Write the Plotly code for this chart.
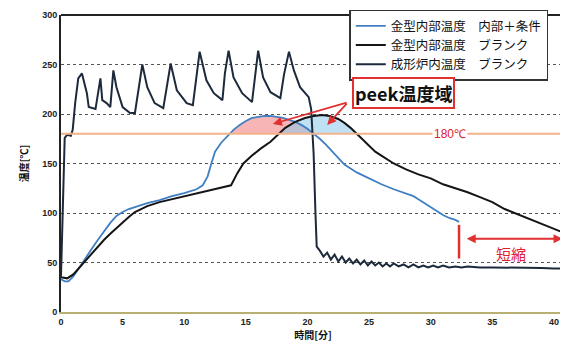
import numpy as np
import plotly.graph_objects as go

# ---- data ----
furnace_x = [0, 0.05, 0.15, 0.3, 0.5, 0.8, 0.95, 1.15, 1.4, 1.7, 2.1, 2.25, 2.8, 3.2, 3.35, 3.7, 4.0, 4.25,
             4.5, 5.0, 5.6, 6.0, 6.6, 7.0, 7.6, 8.3, 8.9, 9.4, 10.2, 10.7, 11.25, 11.8, 12.4, 13.1, 13.3,
             13.6, 14.0, 14.7, 15.5, 15.75, 16.0, 16.4, 17.0, 17.8, 18.1, 18.5, 18.9, 19.4, 20.1, 20.3,
             20.5, 20.65, 20.75, 21.0, 21.3, 21.6, 21.9, 22.2, 22.5, 22.8, 23.1, 23.4, 23.7, 24.0, 24.3,
             24.6, 24.9, 25.2, 25.5, 25.8, 26.1, 26.4, 26.7, 27.0, 27.4, 27.8, 28.2, 28.6, 29.0, 29.4,
             29.8, 30.2, 30.6, 31.0, 31.5, 32.0, 32.5, 33.0, 34.0, 35.0, 36.0, 37.0, 38.0, 39.0, 40.0, 40.9]
furnace_y = [36, 60, 130, 176, 179, 178, 184, 211, 236, 241, 221, 207, 205, 236, 214, 211, 207, 244,
             227, 207, 201, 201, 250, 227, 211, 206, 251, 224, 211, 209, 263, 234, 221, 214, 241,
             264, 237, 221, 212, 240, 264, 237, 222, 216, 240, 263, 244, 227, 217, 205,
             160, 100, 66, 62, 56, 60, 53, 58, 51, 56, 50, 54, 49, 53, 48,
             52, 47, 51, 47, 50, 46, 49, 46, 49, 46, 48, 45, 48, 45, 47,
             45, 47, 45, 47, 45, 46, 45, 46, 45, 45, 45, 44.5, 44.5, 44.5, 44, 44]

blue_x = [0, 0.3, 0.6, 1.0, 1.5, 2.0, 2.5, 3.0, 3.5, 4.0, 4.5, 5.0, 5.5, 6.0, 7.0, 8.0, 9.0, 10.0, 11.0,
          11.5, 11.9, 12.2, 12.5, 13.0, 13.5, 14.0, 14.5, 15.0, 15.5, 16.0, 16.5, 17.0, 17.5, 18.0, 18.5,
          19.0, 19.5, 20.0, 20.5, 21.0, 21.5, 22.0, 22.5, 23.0, 23.5, 24.0, 24.5, 25.0, 26.0, 27.0, 28.0,
          28.6, 29.0, 29.5, 30.0, 30.5, 31.0, 31.5, 32.0, 32.3]
blue_y = [33, 31, 31, 36, 45, 55, 64, 73, 82, 90, 97, 101, 104, 106, 110, 113, 117, 120, 124,
          128, 137, 150, 162, 171, 178, 184, 189, 193, 196, 197, 198, 198, 197, 196, 194,
          192, 189, 185, 180, 175, 169, 162, 155, 149, 145, 141, 138, 135, 129, 124, 120,
          117, 114, 110, 106, 102, 98, 95, 93, 91]

black_x = [0, 0.5, 1.0, 1.5, 2.0, 2.5, 3.0, 3.5, 4.0, 4.5, 5.0, 5.5, 6.0, 7.0, 8.0, 9.0, 10.0, 11.0,
           12.0, 13.0, 13.8, 14.3, 14.8, 15.5, 16.2, 17.0, 17.6, 18.2, 19.0, 19.8, 20.5, 21.2, 21.8,
           22.5, 23.0, 23.5, 24.0, 24.5, 25.0, 25.5, 26.0, 26.5, 27.0, 28.0, 29.0, 30.0, 31.0, 32.0,
           33.0, 34.0, 35.0, 36.0, 37.0, 38.0, 39.0, 40.0, 40.8]
black_y = [35, 34, 38, 45, 53, 60, 66, 73, 79, 85, 91, 96, 101, 107, 111, 114, 117, 120,
           123, 126, 128, 140, 150, 158, 165, 172, 179, 186, 192, 196, 198, 199, 198,
           195, 191, 186, 180, 174, 167, 162, 158, 154, 150, 144, 139, 135, 129, 125,
           121, 116, 111, 104, 99, 94, 89, 84, 80]

threshold = 180
legend_names = ["金型内部温度　内部＋条件", "金型内部温度　ブランク", "成形炉内温度　ブランク"]
y_ticks = [0, 50, 100, 150, 200, 250, 300]
x_ticks = [0, 5, 10, 15, 20, 25, 30, 35, 40]

# annotation anchors (data coords)
peek_label = (27.8, 221)
peek_arrow_tail = (23.3, 212)
peek_arrow_heads = [(17.2, 190), (21.6, 189)]
short_bar_x = 32.3
short_bar_y = (88, 54)
short_arrow = (32.8, 40.7, 74)
short_label = (36.5, 59)
temp_label = (31.6, 180)


def above_region(xs, ys, thr):
    xs = np.asarray(xs, float)
    ys = np.asarray(ys, float)
    px, py = [], []
    for i in range(len(xs) - 1):
        x0, x1, y0, y1 = xs[i], xs[i + 1], ys[i], ys[i + 1]
        if y0 >= thr:
            px.append(x0); py.append(y0)
        if (y0 - thr) * (y1 - thr) < 0:
            xc = x0 + (thr - y0) * (x1 - x0) / (y1 - y0)
            px.append(xc); py.append(thr)
    poly_x = px + [px[-1], px[0]]
    poly_y = py + [thr, thr]
    return poly_x, poly_y


fig = go.Figure()

# shaded regions above 180
bx, by = above_region(blue_x, blue_y, threshold)
fig.add_trace(go.Scatter(x=bx, y=by, fill="toself", mode="none",
                         fillcolor="rgba(240,120,120,0.55)", showlegend=False, hoverinfo="skip"))
kx, ky = above_region(black_x, black_y, threshold)
fig.add_trace(go.Scatter(x=kx, y=ky, fill="toself", mode="none",
                         fillcolor="rgba(140,200,235,0.55)", showlegend=False, hoverinfo="skip"))

# 180 line
fig.add_hline(y=threshold, line=dict(color="#f2b28a", width=2))

fig.add_trace(go.Scatter(x=blue_x, y=blue_y, mode="lines", name=legend_names[0],
                         line=dict(color="#3f7fc2", width=1.8)))
fig.add_trace(go.Scatter(x=black_x, y=black_y, mode="lines", name=legend_names[1],
                         line=dict(color="#151515", width=2)))
fig.add_trace(go.Scatter(x=furnace_x, y=furnace_y, mode="lines", name=legend_names[2],
                         line=dict(color="#1d2a3c", width=2)))

annotations = [
    dict(x=peek_label[0], y=peek_label[1], text="<b>peek温度域</b>", showarrow=False,
         font=dict(size=18, color="#111", family="Noto Sans CJK JP"), bgcolor="white",
         bordercolor="#e03030", borderwidth=2, borderpad=1),
    dict(x=temp_label[0], y=temp_label[1], text="180℃", showarrow=False,
         font=dict(size=12, color="#e02030", family="Liberation Sans"), bgcolor="white"),
    dict(x=short_label[0], y=short_label[1], text="短縮", showarrow=False,
         font=dict(size=15, color="#e02030", family="Noto Sans CJK JP")),
    dict(x=short_arrow[1], y=short_arrow[2], ax=short_arrow[0], ay=short_arrow[2],
         xref="x", yref="y", axref="x", ayref="y", text="", showarrow=True,
         arrowhead=2, arrowside="end+start", arrowsize=1, arrowwidth=1.8, arrowcolor="#e03030"),
]
for hx, hy in peek_arrow_heads:
    annotations.append(dict(x=hx, y=hy, ax=peek_arrow_tail[0], ay=peek_arrow_tail[1],
                            xref="x", yref="y", axref="x", ayref="y", text="", showarrow=True,
                            arrowhead=2, arrowsize=1, arrowwidth=1.8, arrowcolor="#e03030"))

fig.add_shape(type="line", x0=short_bar_x, x1=short_bar_x, y0=short_bar_y[0], y1=short_bar_y[1],
              xref="x", yref="y", line=dict(color="#e03030", width=2.5))
# top frame line
fig.add_shape(type="line", x0=0, x1=1, y0=1, y1=1, xref="paper", yref="paper",
              line=dict(color="#222", width=2))

# page body has an 8px default margin: size and margins compensate for it
fig.update_layout(
    width=560, height=336,
    margin=dict(l=53, r=3, t=7, b=32, autoexpand=False),
    paper_bgcolor="white", plot_bgcolor="white",
    font=dict(family="Liberation Sans", size=9, color="#111"),
    annotations=annotations,
    legend=dict(x=0.572, y=1.018, xanchor="left", yanchor="top",
                bgcolor="white", bordercolor="#333", borderwidth=1.5,
                font=dict(size=12.5, family="Noto Sans CJK JP", color="#111"),
                tracegroupgap=0, itemwidth=30),
    showlegend=True,
)
fig.update_xaxes(range=[0, 40.9], tickvals=x_ticks, showgrid=False, zeroline=False,
                 showline=True, linecolor="#b8b070", linewidth=1.5, ticks="", automargin=False,
                 tickfont=dict(size=9, family="Liberation Sans", color="#222", weight="bold"),
                 title=dict(text="<b>時間[分]</b>", font=dict(size=10, family="Noto Sans CJK JP"), standoff=3))
fig.update_yaxes(range=[0, 300], tickvals=y_ticks, showgrid=True, gridcolor="#555",
                 griddash="dot", gridwidth=1, zeroline=False, automargin=False,
                 showline=True, linecolor="#222", linewidth=2, mirror=True, ticks="",
                 tickfont=dict(size=9, family="Liberation Sans", color="#222", weight="bold"),
                 title=dict(text="<b>温度[℃]</b>", font=dict(size=10, family="Noto Sans CJK JP"), standoff=12))

fig.write_html("out.html")
